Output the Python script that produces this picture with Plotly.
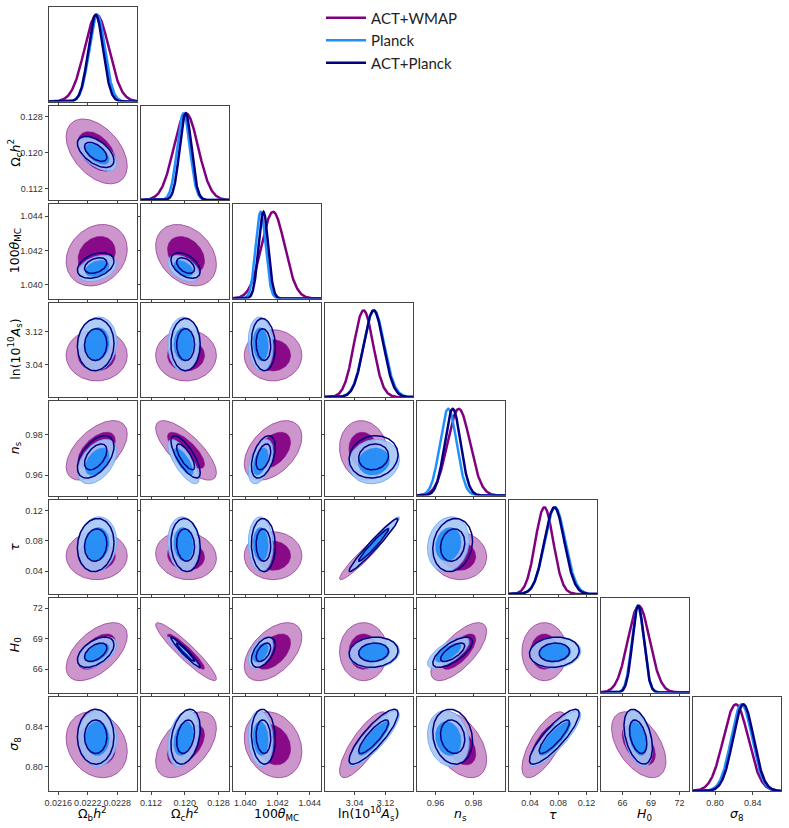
import numpy as np
import plotly.graph_objects as go

# ---------------- data ----------------
param_labels = ["Ω<sub>b</sub><i>h</i><sup>2</sup>", "Ω<sub>c</sub><i>h</i><sup>2</sup>",
                "100<i>θ</i><sub>MC</sub>", "ln(10<sup>10</sup><i>A</i><sub>s</sub>)",
                "<i>n</i><sub>s</sub>", "<i>τ</i>", "<i>H</i><sub>0</sub>", "<i>σ</i><sub>8</sub>"]
axis_ranges = [[0.0214, 0.0232], [0.1095, 0.1305], [1.0392, 1.0447], [2.962, 3.191],
               [0.950, 0.9965], [0.0095, 0.135], [63.7, 73.0], [0.776, 0.870]]
tick_vals = [[0.0216, 0.0222, 0.0228], [0.112, 0.120, 0.128], [1.040, 1.042, 1.044],
             [3.04, 3.12], [0.96, 0.98], [0.04, 0.08, 0.12], [66, 69, 72], [0.80, 0.84]]
tick_text = [["0.0216", "0.0222", "0.0228"], ["0.112", "0.120", "0.128"],
             ["1.040", "1.042", "1.044"], ["3.04", "3.12"], ["0.96", "0.98"],
             ["0.04", "0.08", "0.12"], ["66", "69", "72"], ["0.80", "0.84"]]

dataset_names = ["ACT+WMAP", "Planck", "ACT+Planck"]

mean_act_wmap = [0.02238, 0.1203, 1.04172, 3.063, 0.9722, 0.0603, 67.72, 0.8220]
sigma_act_wmap = [0.00025, 0.0029, 0.00072, 0.025, 0.0059, 0.0128, 1.15, 0.0132]
mean_planck = [0.02239, 0.1197, 1.04095, 3.090, 0.9667, 0.0755, 67.62, 0.8282]
sigma_planck = [0.00016, 0.0015, 0.00031, 0.0265, 0.0044, 0.0147, 0.62, 0.0112]
mean_act_planck = [0.02236, 0.1202, 1.04112, 3.089, 0.9690, 0.0745, 67.66, 0.8300]
sigma_act_planck = [0.00015, 0.0014, 0.00030, 0.0255, 0.0042, 0.0142, 0.60, 0.0110]

# lower-triangular correlation coefficients: row j lists rho(j, i) for i < j
rho_act_wmap = [[],
                [-0.45],
                [0.2, -0.3],
                [0.0, 0.0, 0.0],
                [0.55, -0.75, 0.45, -0.1],
                [0.0, -0.1, 0.0, 0.95, -0.05],
                [0.55, -0.93, 0.5, 0.0, 0.7, 0.0],
                [-0.2, 0.5, -0.2, 0.8, -0.45, 0.7, -0.5]]
rho_planck = [[],
              [-0.55],
              [0.35, -0.45],
              [0.1, 0.0, -0.1],
              [0.45, -0.75, 0.45, 0.1],
              [0.1, -0.1, -0.05, 0.97, 0.15],
              [0.5, -0.96, 0.5, 0.1, 0.7, 0.1],
              [0.0, 0.3, -0.1, 0.85, -0.15, 0.85, -0.4]]
rho_act_planck = [[],
                  [-0.55],
                  [0.35, -0.45],
                  [0.05, 0.0, -0.1],
                  [0.5, -0.75, 0.45, 0.1],
                  [0.1, -0.1, -0.05, 0.97, 0.15],
                  [0.5, -0.96, 0.5, 0.1, 0.7, 0.1],
                  [0.0, 0.3, -0.1, 0.85, -0.15, 0.85, -0.4]]

# ---------------- styling ----------------
W, H = 789, 828
N = 8
COL_LEFT, COL_STEP, COL_W = 48.5, 92.0, 88.5
ROW_TOP, ROW_STEP, ROW_H = 7.0, 98.5, 94.5
line_colors = ["#800080", "#1e90ff", "#000080"]
R68, R95 = np.sqrt(2.30), np.sqrt(6.17)

datasets = [
    (mean_act_wmap, sigma_act_wmap, rho_act_wmap),
    (mean_planck, sigma_planck, rho_planck),
    (mean_act_planck, sigma_act_planck, rho_act_planck),
]

fig = go.Figure()
layout = {}
t = np.linspace(0, 2 * np.pi, 121)


def ellipse(d, i, j, r):
    m, s, rho = d
    p = rho[j][i]
    x = m[i] + r * s[i] * np.cos(t)
    y = m[j] + r * s[j] * (p * np.cos(t) + np.sqrt(1 - p * p) * np.sin(t))
    return x, y


k = 0
for row in range(N):
    for col in range(row + 1):
        k += 1
        xa = "x" if k == 1 else f"x{k}"
        ya = "y" if k == 1 else f"y{k}"
        x0 = (COL_LEFT + COL_STEP * col) / W
        x1 = (COL_LEFT + COL_STEP * col + COL_W) / W
        top = ROW_TOP + ROW_STEP * row
        y1 = 1 - top / H
        y0 = 1 - (top + ROW_H) / H
        axcommon = dict(showgrid=False, zeroline=False, showline=True, mirror=True,
                        linecolor="#444", linewidth=1, ticks="outside", ticklen=3,
                        tickcolor="#444", tickwidth=1, tickangle=0, automargin=False,
                        tickfont=dict(family="Liberation Sans", size=9, color="#333"))
        layout["xaxis" if k == 1 else f"xaxis{k}"] = dict(
            domain=[x0, x1], anchor=ya, range=axis_ranges[col],
            tickvals=tick_vals[col], ticktext=tick_text[col],
            showticklabels=(row == N - 1), **axcommon)
        if row == col:
            layout["yaxis" if k == 1 else f"yaxis{k}"] = dict(
                domain=[y0, y1], anchor=xa, range=[0, 1.09], showticklabels=False,
                **{**axcommon, "ticks": ""})
            xs = np.linspace(axis_ranges[col][0], axis_ranges[col][1], 300)
            for di, (m, s, _) in enumerate(datasets):
                ys = np.exp(-0.5 * ((xs - m[col]) / s[col]) ** 2)
                fig.add_trace(go.Scatter(
                    x=xs, y=ys, mode="lines", xaxis=xa, yaxis=ya,
                    line=dict(color=line_colors[di], width=2.5),
                    name=dataset_names[di], showlegend=(k == 1), hoverinfo="skip"))
        else:
            layout["yaxis" if k == 1 else f"yaxis{k}"] = dict(
                domain=[y0, y1], anchor=xa, range=axis_ranges[row],
                tickvals=tick_vals[row], ticktext=tick_text[row],
                showticklabels=(col == 0), **axcommon)
            i, j = col, row
            # ACT+WMAP filled
            ex, ey = ellipse(datasets[0], i, j, R95)
            fig.add_trace(go.Scatter(x=ex, y=ey, mode="lines", fill="toself",
                                     fillcolor="rgb(204,150,204)",
                                     line=dict(color="rgba(150,60,150,0.8)", width=1),
                                     xaxis=xa, yaxis=ya, showlegend=False, hoverinfo="skip"))
            ex, ey = ellipse(datasets[0], i, j, R68)
            fig.add_trace(go.Scatter(x=ex, y=ey, mode="lines", fill="toself",
                                     fillcolor="rgb(136,10,136)",
                                     line=dict(color="rgb(136,10,136)", width=0.5),
                                     xaxis=xa, yaxis=ya, showlegend=False, hoverinfo="skip"))
            # Planck filled
            ex, ey = ellipse(datasets[1], i, j, R95)
            fig.add_trace(go.Scatter(x=ex, y=ey, mode="lines", fill="toself",
                                     fillcolor="rgba(165,200,245,0.9)",
                                     line=dict(color="rgba(110,170,245,0.9)", width=1),
                                     xaxis=xa, yaxis=ya, showlegend=False, hoverinfo="skip"))
            ex, ey = ellipse(datasets[1], i, j, R68)
            fig.add_trace(go.Scatter(x=ex, y=ey, mode="lines", fill="toself",
                                     fillcolor="rgba(35,140,245,0.95)",
                                     line=dict(color="rgba(35,140,245,0.95)", width=0.5),
                                     xaxis=xa, yaxis=ya, showlegend=False, hoverinfo="skip"))
            # ACT+Planck lines
            for r in (R95, R68):
                ex, ey = ellipse(datasets[2], i, j, r)
                fig.add_trace(go.Scatter(x=ex, y=ey, mode="lines",
                                         line=dict(color="#000080", width=1.5),
                                         xaxis=xa, yaxis=ya, showlegend=False, hoverinfo="skip"))

annotations = []
for c in range(N):
    annotations.append(dict(
        x=(COL_LEFT + COL_STEP * c + COL_W / 2) / W, y=1 - 814 / H, xref="paper", yref="paper",
        text=param_labels[c], showarrow=False, xanchor="center", yanchor="middle",
        font=dict(family="DejaVu Sans", size=12.5, color="black")))
for r in range(1, N):
    annotations.append(dict(
        x=15 / W, y=1 - (ROW_TOP + ROW_STEP * r + ROW_H / 2) / H, xref="paper", yref="paper",
        text=param_labels[r], showarrow=False, xanchor="center", yanchor="middle",
        textangle=-90, font=dict(family="DejaVu Sans", size=12.5, color="black")))

fig.update_layout(
    width=W, height=H, margin=dict(l=0, r=0, t=0, b=0, autoexpand=False),
    paper_bgcolor="white", plot_bgcolor="white",
    annotations=annotations,
    legend=dict(x=321 / W, y=1 - 1.5 / H, xanchor="left", yanchor="top",
                font=dict(family="Lato", size=15, color="#222"), itemwidth=40,
                bgcolor="rgba(0,0,0,0)", tracegroupgap=0),
    **layout)

fig.write_html("out.html", config={"displayModeBar": False},
               post_script="document.body.style.margin='0px';document.body.style.overflow='hidden';")
